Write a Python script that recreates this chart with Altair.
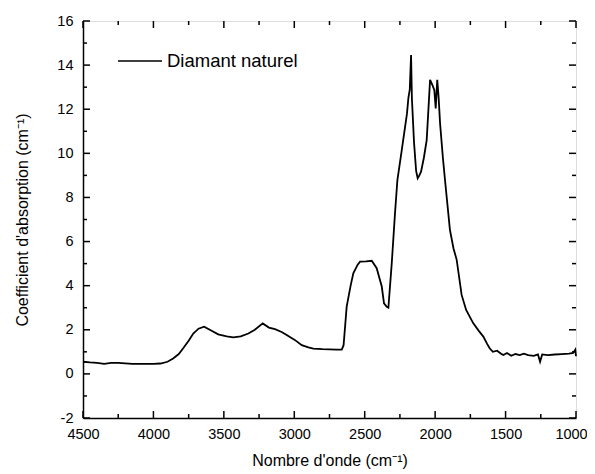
import altair as alt
import pandas as pd

# Spectrum
wavenumber = [4500, 4450, 4400, 4350, 4300, 4250, 4200, 4150, 4100, 4050, 4000, 3950,
              3900, 3860, 3820, 3790, 3750, 3717, 3680, 3640, 3600, 3540, 3480, 3433,
              3380, 3326, 3280, 3224, 3180, 3137, 3090, 3054, 2994, 2947, 2900, 2865,
              2800, 2700, 2663, 2650, 2628, 2600, 2581, 2550, 2533, 2490, 2450, 2415,
              2379, 2363, 2345, 2332, 2308, 2285, 2268, 2237, 2200, 2190, 2180, 2171,
              2165, 2150, 2135, 2124, 2112, 2100, 2080, 2060, 2045, 2036, 2020, 2006,
              1996, 1985, 1975, 1965, 1945, 1930, 1895, 1870, 1847, 1812, 1780, 1729,
              1690, 1658, 1630, 1613, 1590, 1560, 1530, 1516, 1490, 1460, 1430, 1400,
              1370, 1340, 1300, 1270, 1255, 1240, 1200, 1150, 1100, 1050, 1020, 1005, 1000]
absorption = [0.55, 0.52, 0.50, 0.45, 0.50, 0.50, 0.48, 0.45, 0.45, 0.45, 0.45, 0.47,
              0.55, 0.70, 0.90, 1.15, 1.50, 1.83, 2.05, 2.14, 2.00, 1.79, 1.70, 1.66,
              1.70, 1.83, 2.00, 2.29, 2.10, 2.03, 1.90, 1.76, 1.53, 1.30, 1.20, 1.15,
              1.12, 1.10, 1.10, 1.30, 3.05, 4.00, 4.56, 4.95, 5.09, 5.10, 5.13, 4.79,
              3.96, 3.20, 3.05, 3.00, 5.02, 7.28, 8.79, 10.15, 11.80, 12.50, 12.90, 14.46,
              12.50, 10.50, 9.20, 8.87, 9.00, 9.17, 9.80, 10.60, 12.30, 13.33, 13.10, 12.87,
              12.04, 13.33, 12.50, 11.36, 9.80, 8.79, 6.53, 5.70, 5.17, 3.58, 2.90, 2.29,
              1.95, 1.69, 1.35, 1.16, 1.00, 1.05, 0.90, 0.86, 0.95, 0.82, 0.90, 0.85,
              0.92, 0.85, 0.82, 0.88, 0.55, 0.88, 0.85, 0.88, 0.90, 0.92, 0.95, 1.10, 0.80]

series_name = ["Diamant naturel"]
x_major = [4500, 4000, 3500, 3000, 2500, 2000, 1500, 1000]
x_minor = [4250, 3750, 3250, 2750, 2250, 1750, 1250]
y_major = [-2, 0, 2, 4, 6, 8, 10, 12, 14, 16]
y_minor = [-1, 1, 3, 5, 7, 9, 11, 13, 15]

W, H = 493, 397
FONT = "Liberation Sans"

df = pd.DataFrame({"x": wavenumber, "y": absorption})
xs = alt.Scale(domain=[4500, 1000], nice=False, zero=False)
ys = alt.Scale(domain=[-2, 16], nice=False, zero=False)

line = alt.Chart(df).mark_line(color="black", strokeWidth=1.8).encode(
    x=alt.X("x:Q", scale=xs,
            axis=alt.Axis(title="Nombre d'onde (cm⁻¹)", values=x_major,
                          labelExpr="'' + datum.value", labelFlush=False,
                          labelOffset={"condition": {"test": "datum.value == 1000", "value": -5},
                                       "value": 0},
                          ticks=False, grid=False, domainColor="black", domainWidth=1.5,
                          labelFont=FONT, labelFontSize=14.5, labelColor="black",
                          labelPadding=9, titleFont=FONT, titleFontSize=16,
                          titleFontWeight="normal", titleColor="black", titleY=34)),
    y=alt.Y("y:Q", scale=ys,
            axis=alt.Axis(title="Coefficient d'absorption (cm⁻¹)", values=y_major,
                          labelExpr="'' + datum.value", labelFlush=False,
                          ticks=False, grid=False, domainColor="black", domainWidth=1.5,
                          labelFont=FONT, labelFontSize=14.5, labelColor="black",
                          labelPadding=10, titleFont=FONT, titleFontSize=16,
                          titleFontWeight="normal", titleColor="black",
                          titleX=-53, titleY=H / 2)),
)

def xticks(vals, length):
    d = pd.DataFrame({"x": vals})
    bottom = alt.Chart(d).mark_rule(color="black", strokeWidth=1.5).encode(
        x=alt.X("x:Q", scale=xs), y=alt.value(H), y2=alt.value(H - length))
    top = alt.Chart(d).mark_rule(color="black", strokeWidth=1.5).encode(
        x=alt.X("x:Q", scale=xs), y=alt.value(0), y2=alt.value(length))
    return bottom + top

def yticks(vals, length):
    d = pd.DataFrame({"y": vals})
    left = alt.Chart(d).mark_rule(color="black", strokeWidth=1.5).encode(
        y=alt.Y("y:Q", scale=ys), x=alt.value(0), x2=alt.value(length))
    right = alt.Chart(d).mark_rule(color="black", strokeWidth=1.5).encode(
        y=alt.Y("y:Q", scale=ys), x=alt.value(W), x2=alt.value(W - length))
    return left + right

leg = pd.DataFrame({"name": series_name})
leg_line = alt.Chart(leg).mark_rule(color="black", strokeWidth=1.3).encode(
    x=alt.value(35), x2=alt.value(79), y=alt.value(40))
leg_text = alt.Chart(leg).mark_text(align="left", baseline="middle", font=FONT,
                                    fontSize=18.5, color="black").encode(
    x=alt.value(84), y=alt.value(40), text="name:N")

chart = alt.layer(
    line, xticks(x_major, 7), xticks(x_minor, 4), yticks(y_major, 7), yticks(y_minor, 4),
    leg_line, leg_text
).properties(
    width=W, height=H, autosize="none",
    padding={"left": 75, "top": 13, "right": 11, "bottom": 53},
).configure_view(stroke="black", strokeWidth=1.5).configure(background="white")

chart.save("out.html", embed_options={"renderer": "svg", "actions": False})
